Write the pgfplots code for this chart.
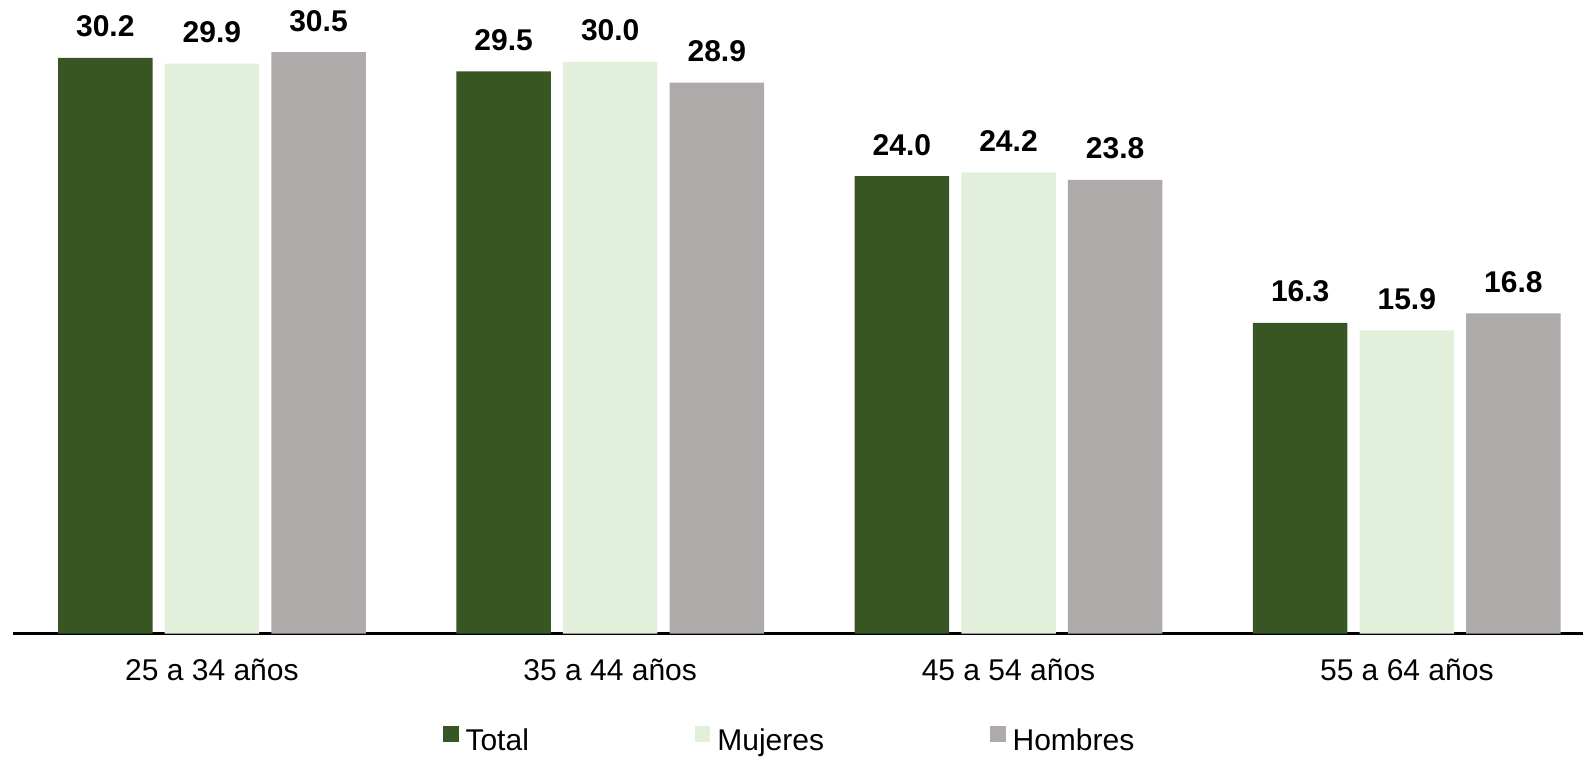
\documentclass[border=0pt]{standalone}
\usepackage{pgfplots}
\pgfplotsset{compat=1.18}
\usepackage{fontspec}
\setmainfont{Liberation Sans}
\definecolor{cTotal}{HTML}{375623}
\definecolor{cMuj}{HTML}{E2EFDA}
\definecolor{cHom}{HTML}{AEAAAA}
\begin{document}
\begin{tikzpicture}
\useasboundingbox (0,0) rectangle (791.5pt,380.5pt);
\begin{axis}[
  at={(6.5pt,63.75pt)}, anchor=south west,
  scale only axis, width=785pt, height=316.75pt,
  xmin=-0.4994, xmax=3.4424, ymin=0, ymax=33.24,
  clip=false,
  ybar=6.05pt, bar width=47.25pt,
  axis x line*=bottom, axis y line=none,
  x axis line style={line width=1.6pt, black},
  xtick={0,1,2,3},
  xticklabels={25 a 34 años, 35 a 44 años, 45 a 54 años, 55 a 64 años},
  major tick length=0pt,
  xticklabel style={font=\fontsize{15}{18}\selectfont, anchor=base, yshift=-23.25pt, inner sep=0pt},
  nodes near coords,
  nodes near coords style={font=\bfseries\fontsize{15}{18}\selectfont, text=black, anchor=base, inner sep=0pt, yshift=10.5pt},
  /pgf/number format/fixed, /pgf/number format/fixed zerofill,
  /pgf/number format/precision=1, /pgf/number format/assume math mode=true,
  legend columns=3,
  legend style={draw=none, fill=none, inner sep=0pt, outer sep=0pt,
    at={(axis description cs:0.2739,-0.168)}, anchor=west,
    font=\fontsize{15}{18}\selectfont,
    nodes={inner sep=0pt},
    /tikz/every odd column/.append style={column sep=3.5pt},
    /tikz/every even column/.append style={column sep=83pt}},
  legend image code/.code={\fill[#1] (0pt,0pt) rectangle (7.75pt,7.75pt);},
]
\addplot[fill=cTotal, draw=none] coordinates {(0,30.2) (1,29.5) (2,24.0) (3,16.3)};
\addplot[fill=cMuj, draw=none] coordinates {(0,29.9) (1,30.0) (2,24.2) (3,15.9)};
\addplot[fill=cHom, draw=none] coordinates {(0,30.5) (1,28.9) (2,23.8) (3,16.8)};
\legend{Total, Mujeres, Hombres}
\end{axis}
\end{tikzpicture}
\end{document}
